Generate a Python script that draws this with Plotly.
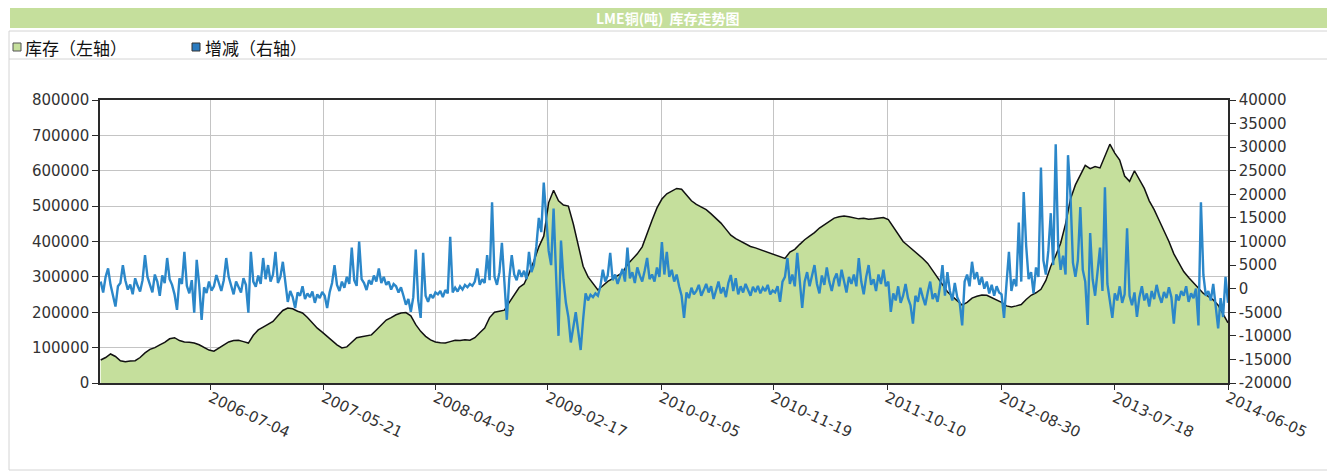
import plotly.graph_objects as go
import pandas as pd

# ---------------- data ----------------
# LME copper stock, tonnes (left axis), fortnightly readings ending 2014-06-05
inventory = [
    65000, 72000, 82000, 75000, 63000, 60000, 62000, 63000, 72000, 85000,
    95000, 100000, 108000, 115000, 125000, 128000, 120000, 116000, 115000, 113000,
    108000, 100000, 93000, 90000, 98000, 108000, 116000, 120000, 121000, 117000,
    113000, 135000, 150000, 158000, 165000, 174000, 190000, 205000, 212000, 210000,
    203000, 198000, 185000, 170000, 155000, 144000, 132000, 120000, 108000, 99000,
    102000, 115000, 128000, 131000, 133000, 136000, 150000, 165000, 178000, 185000,
    193000, 198000, 199000, 190000, 165000, 146000, 132000, 122000, 116000, 114000,
    113000, 117000, 121000, 120000, 122000, 121000, 128000, 142000, 155000, 185000,
    200000, 203000, 206000, 228000, 249000, 270000, 280000, 310000, 345000, 385000,
    415000, 510000, 545000, 515000, 503000, 500000, 450000, 390000, 330000, 300000,
    280000, 263000, 275000, 287000, 295000, 303000, 312000, 335000, 350000, 365000,
    385000, 425000, 460000, 495000, 520000, 535000, 542000, 550000, 548000, 530000,
    515000, 505000, 497000, 490000, 478000, 465000, 452000, 435000, 418000, 408000,
    400000, 392000, 386000, 382000, 377000, 372000, 366000, 362000, 356000, 352000,
    370000, 378000, 392000, 405000, 415000, 425000, 438000, 448000, 458000, 466000,
    470000, 472000, 470000, 466000, 464000, 466000, 463000, 464000, 465000, 468000,
    462000, 440000, 418000, 400000, 388000, 376000, 365000, 352000, 338000, 318000,
    295000, 275000, 258000, 245000, 232000, 220000, 228000, 240000, 245000, 249000,
    248000, 242000, 236000, 228000, 218000, 215000, 218000, 222000, 236000, 248000,
    255000, 265000, 290000, 330000, 360000, 395000, 450000, 520000, 560000, 590000,
    615000, 606000, 612000, 608000, 640000, 675000, 650000, 630000, 585000, 570000,
    600000, 575000, 550000, 515000, 490000, 460000, 432000, 400000, 365000, 340000,
    315000, 298000, 283000, 265000, 253000, 245000, 235000, 220000, 195000, 170000,
]

# Stock change, tonnes (right axis), weekly readings ending 2014-06-05
change = [
    # 2005-08 .. 2006-07
    1500, -800, 2500, 4300, 800, -1500, -3800, 500, 1200, 5000,
    1800, -200, 900, -1200, 2200, 600, -600, 1800, 7100, 2500,
    1000, -800, 3000, 1500, -1500, 2800, 1200, 6500, 2000, 800,
    -1200, -4500, 2200, 1000, 7800, 600, -1000, 1800, -5100, 6100,
    900, -6600, 300, -900, 1500, -400,
    # 2006-07 .. 2007-05
    500, 2900, 1200, -500, 1800, 6500, 2500, 800, -1200, 1500,
    300, -800, 2200, 800, -5100, 7800, 1500, 400, 2800, 1000,
    6500, 2000, 5000, 1500, 3000, 7800, 1200, 2500, 5700, 800,
    -2800, -500, -1800, -4100, -800, -1500, 500, -2200, -1000, -1800,
    -600, -3000, -1200, -2000, -700,
    # 2007-05 .. 2008-04
    -1500, -4100, -800, 1200, 5000, 800, -500, 1500, 200, 2500,
    1000, 8700, 1800, 600, 10000, 2000, 1200, -300, 1800, 900,
    2800, 1500, 4300, 1200, 2500, 800, 1500, -200, 1000, 500,
    -800, 300, -1500, -3400, -2200, -4900, -1800, 8300, -2500, -6200,
    7600, -1500, -2800, -1200, -2000, -800,
    # 2008-04 .. 2009-02
    -1200, -500, -1800, -300, -1000, 11000, -800, 200, -600, 500,
    -200, 800, 300, 1000, 600, 1500, 4300, 800, 2000, 1200,
    7100, 1800, 18300, 2500, 800, 3500, 9700, 1500, -6600, 2200,
    7100, 3000, 1800, 4000, 2500, 3800, 2000, 7800, 3500, 5000,
    9000, 15000, 12000, 22500, 14000, 8000,
    # 2009-02 .. 2010-01
    5000, 17000, 3000, -10000, 10200, 2000, -3000, -6000, -11400, -8000,
    -5000, -9000, -13000, -6500, -1000, -2500, -1300, -1800, -1000, -1500,
    500, 4000, 1500, 2800, 7600, 1800, 3000, 1000, 2500, 4200,
    1500, 8700, 2200, 3500, 1200, 4500, 2800, 1500, 3800, 6500,
    2000, 3000, 1500, 4500, 2500, 9900,
    # 2010-01 .. 2010-11
    3000, 7800, 2500, 4000, 1500, 3000, 500, -1500, -6200, -800,
    -2000, 200, -1200, -500, 800, -1500, -300, 1000, -800, 500,
    -2200, -600, 1500, -1000, 300, -1800, 1200, 2900, -500, 2200,
    -1200, 500, -800, 1000, -300, -1500, 400, -700, 600, -1000,
    200, -500, 800, -1200, -400, -800,
    # 2010-11 .. 2011-10
    500, -2800, 1500, 2500, 6500, 1000, 3000, 500, 7600, 2000,
    -4100, 1500, 3500, 500, 2500, 5000, 1000, -1000, 2800, 800,
    4500, 1500, -500, 2000, 3200, 500, 4000, 1200, -800, 2500,
    1000, 3000, 500, 6500, 1500, -1200, 2500, 5000, 800, 2000,
    -500, 3000, 1000, 4000, 500, 1500,
    # 2011-10 .. 2012-08
    -4900, -1000, -2500, 500, -3000, -1500, 1000, -2000, -3500, -7400,
    -1500, -2800, 200, -1800, -3500, -800, 1500, -2200, -1000, -2800,
    500, 5000, -1500, 3500, -500, -2500, 1200, -1800, -3000, -7800,
    1500, 3000, 500, 5700, 2000, 3500, 800, 2500, 0, 1500,
    -1000, 800, -1500, 500, -800, -1200,
    # 2012-08 .. 2013-07
    -6200, 1000, 7800, -500, 2000, 500, 14000, 1500, 20500, 9100,
    2000, 3500, -1000, 4500, 2500, 25700, 6000, 3000, 8000, 16000,
    5000, 30600, 9000, 4000, 7000, 3000, 28300, 19800, 5500, 2500,
    6000, 17300, 4000, 1500, -7700, 11800, 2000, -1500, 3000, 8700,
    -500, 21500, 1000, -2500, -6200, -1000,
    # 2013-07 .. 2014-06
    -2500, 500, -3000, -1200, 12800, -1500, -3500, -800, -6000, -1800,
    500, -2500, -1000, -3800, -500, -2200, 800, -1500, -3000, -700,
    -2000, 300, -1800, -7400, -1200, -2500, -500, -1500, 500, -2800,
    -1000, -2000, 0, -7800, 18300, 2900, -1500, -500, -2500, 1000,
    -3500, -8400, -2000, -6000, 2500, -3000,
]

x_tick_labels = ["2006-07-04", "2007-05-21", "2008-04-03", "2009-02-17", "2010-01-05",
                 "2010-11-19", "2011-10-10", "2012-08-30", "2013-07-18", "2014-06-05"]
left_ticks = [0, 100000, 200000, 300000, 400000, 500000, 600000, 700000, 800000]
right_ticks = [-20000, -15000, -10000, -5000, 0, 5000, 10000, 15000, 20000,
               25000, 30000, 35000, 40000]

title_text = "LME铜(吨)  库存走势图"
legend_labels = ["库存（左轴）", "增减（右轴）"]

last_date = "2014-06-05"
inv_dates = pd.date_range(end=last_date, periods=len(inventory), freq="14D")
chg_dates = pd.date_range(end=last_date, periods=len(change), freq="7D")

# ---------------- styling ----------------
GREEN = "#c5df9c"
BLUE = "#2b87c9"
GRID = "#c4c4c4"
AXIS = "#2a2a2a"
TICKFONT = dict(family="DejaVu Sans, Liberation Sans, sans-serif", size=15, color="#333333")
CJK = "Noto Sans CJK SC, Noto Sans, sans-serif"

# the page body adds an 8px margin: work in page pixels, shift into figure pixels
OFF = 8
PAGE_W, PAGE_H = 1335, 474
W, H = PAGE_W - OFF, PAGE_H - OFF
L, R, T, B = 100 - OFF, 1228 - OFF, 100 - OFF, 383 - OFF


def px(x):
    return (x - OFF - L) / (R - L)


def py(y):
    return (B - (y - OFF)) / (B - T)


fig = go.Figure()
fig.add_trace(go.Scatter(
    x=inv_dates, y=inventory, mode="lines", fill="tozeroy", fillcolor=GREEN,
    line=dict(color="#111111", width=1.5), name=legend_labels[0], yaxis="y",
    hoverinfo="x+y",
))
fig.add_trace(go.Scatter(
    x=chg_dates, y=change, mode="lines",
    line=dict(color=BLUE, width=2.4), name=legend_labels[1], yaxis="y2",
    hoverinfo="x+y",
))

shapes = [
    # outer frame
    dict(type="rect", xref="paper", yref="paper", x0=px(9), x1=px(1330), y0=py(470), y1=py(31),
         line=dict(color="#d4d4d4", width=1), fillcolor="rgba(0,0,0,0)", layer="below"),
    # legend separator
    dict(type="line", xref="paper", yref="paper", x0=px(9), x1=px(1330), y0=py(59), y1=py(59),
         line=dict(color="#d4d4d4", width=1), layer="below"),
    # title band
    dict(type="rect", xref="paper", yref="paper", x0=px(10), x1=px(1328), y0=py(28), y1=py(5),
         line=dict(width=0), fillcolor=GREEN, layer="below"),
    # legend swatches
    dict(type="rect", xref="paper", yref="paper", x0=px(13), x1=px(21), y0=py(51), y1=py(43),
         line=dict(color="#555555", width=1), fillcolor=GREEN),
    dict(type="rect", xref="paper", yref="paper", x0=px(192), x1=px(200), y0=py(51), y1=py(43),
         line=dict(color="#333333", width=1), fillcolor="#2a7bc0"),
]

annotations = [
    dict(text=f"<b>{title_text}</b>", xref="paper", yref="paper", x=px(668), y=py(18),
         xanchor="center", yanchor="middle", showarrow=False, borderpad=0,
         font=dict(family=CJK, size=14, color="white")),
    dict(text=legend_labels[0], xref="paper", yref="paper", x=px(23), y=py(47),
         xanchor="left", yanchor="middle", showarrow=False,
         font=dict(family=CJK, size=17, color="#111111")),
    dict(text=legend_labels[1], xref="paper", yref="paper", x=px(203), y=py(47),
         xanchor="left", yanchor="middle", showarrow=False,
         font=dict(family=CJK, size=17, color="#111111")),
]

fig.update_layout(
    width=W, height=H,
    margin=dict(l=L, r=W - R, t=T, b=H - B, pad=0),
    paper_bgcolor="white", plot_bgcolor="white",
    showlegend=False,
    shapes=shapes, annotations=annotations,
    xaxis=dict(
        type="date", range=["2005-08-23", last_date],
        tickmode="array", tickvals=x_tick_labels, ticktext=x_tick_labels,
        tickangle=25, tickfont=TICKFONT, ticklabelstandoff=-6,
        showgrid=True, gridcolor=GRID, gridwidth=1,
        showline=True, linecolor=AXIS, linewidth=1.5, mirror=True,
        ticks="outside", ticklen=5, tickcolor=AXIS, zeroline=False,
    ),
    yaxis=dict(
        range=[0, 800000], tickmode="array", tickvals=left_ticks,
        ticktext=[str(v) for v in left_ticks], tickfont=TICKFONT,
        showgrid=True, gridcolor=GRID, gridwidth=1,
        showline=True, linecolor=AXIS, linewidth=1.5,
        ticks="outside", ticklen=6, tickcolor=AXIS, zeroline=False,
    ),
    yaxis2=dict(
        overlaying="y", side="right", range=[-20000, 40000], tickmode="array",
        tickvals=right_ticks, ticktext=[str(v) for v in right_ticks], tickfont=TICKFONT,
        showgrid=False, showline=True, linecolor=AXIS, linewidth=1.5,
        ticks="outside", ticklen=6, tickcolor=AXIS, zeroline=False,
    ),
)

fig.write_html("out.html")
